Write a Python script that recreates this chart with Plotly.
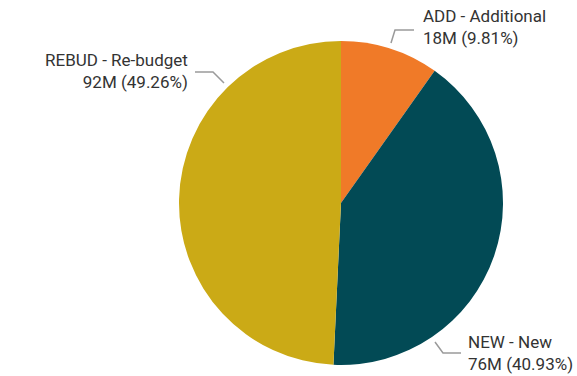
import plotly.graph_objects as go

# Budget composition by type
codes = ["ADD", "NEW", "REBUD"]
names = ["Additional", "New", "Re-budget"]
values = [18.25, 76.13, 91.62]  # millions
colors = ["#F07A28", "#024A55", "#CBAA16"]

W, H = 577, 376
CX, CY, R = 341, 203, 162  # pie centre and radius in pixels

def fx(x):
    return x / W

def fy(y):
    return 1 - y / H

total = sum(values)
texts = [f"{c} - {n}<br>{round(v)}M ({v / total * 100:.2f}%)"
         for c, n, v in zip(codes, names, values)]

fig = go.Figure(go.Pie(
    labels=[f"{c} - {n}" for c, n in zip(codes, names)],
    values=values,
    sort=False,
    direction="clockwise",
    rotation=0,
    marker=dict(colors=colors, line=dict(width=0)),
    textinfo="none",
    hoverinfo="label+value+percent",
    showlegend=False,
    domain=dict(x=[fx(CX - R), fx(CX + R)], y=[fy(CY + R), fy(CY - R)]),
))

# label placement: text anchor, alignment and leader polyline (pixels)
label_layout = [
    dict(x=421, y=27, xanchor="left", align="left",
         line=[(391, 43), (395, 30), (414, 30)]),
    dict(x=466, y=353, xanchor="left", align="left",
         line=[(435, 342), (443, 353), (461, 353)]),
    dict(x=190, y=71, xanchor="right", align="right",
         line=[(224, 83), (213, 72), (195, 72)]),
]

font = dict(family="Roboto, sans-serif", size=17, color="#333333")
for t, lay in zip(texts, label_layout):
    fig.add_annotation(
        x=fx(lay["x"]), y=fy(lay["y"]), xref="paper", yref="paper",
        text=t, showarrow=False, xanchor=lay["xanchor"], yanchor="middle",
        align=lay["align"], font=font,
    )
    pts = lay["line"]
    path = "M " + " L ".join(f"{fx(x):.5f},{fy(y):.5f}" for x, y in pts)
    fig.add_shape(type="path", path=path, xref="paper", yref="paper",
                  line=dict(color="#9A9A9A", width=1.5))

fig.update_layout(
    width=W, height=H,
    margin=dict(l=0, r=0, t=0, b=0),
    paper_bgcolor="white", plot_bgcolor="white",
)

fig.write_html("out.html")
